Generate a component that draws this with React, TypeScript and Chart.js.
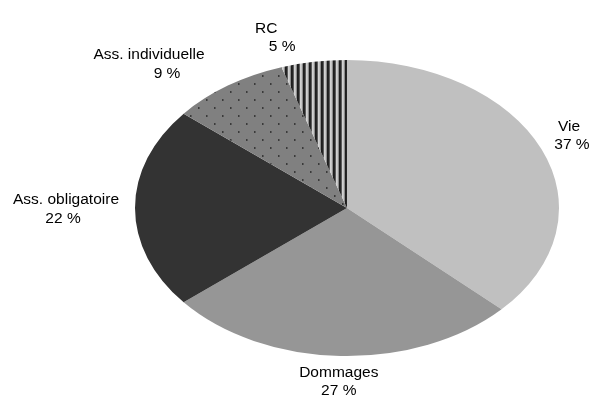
import { useEffect, useRef } from "react";
import { Chart, registerables } from "chart.js";

Chart.register(...registerables);

// Répartition des primes par branche (en % du total)
const categories = ["Vie", "Dommages", "Ass. obligatoire", "Ass. individuelle", "RC"];
const shares = [37, 27, 22, 9, 5];
const percentLabels = shares.map((v) => `${v} %`);

// Horizontal stretch that turns the round pie into an ellipse
const STRETCH_X = 212 / 148;

function makeDotPattern(): CanvasPattern | string {
  const c = document.createElement("canvas");
  c.width = 16;
  c.height = 16;
  const g = c.getContext("2d");
  if (!g) return "#808080";
  g.fillStyle = "#808080";
  g.fillRect(0, 0, 16, 16);
  g.fillStyle = "#3a3a3a";
  g.fillRect(4, 3, 1, 2);
  g.fillRect(12, 11, 1, 2);
  g.fillStyle = "#5a5a5a";
  g.fillRect(5, 3, 1, 2);
  g.fillRect(13, 11, 1, 2);
  const p = g.createPattern(c, "repeat");
  if (!p) return "#808080";
  p.setTransform(new DOMMatrix([1 / STRETCH_X, 0, 0, 1, 0, 0]));
  return p;
}

function makeStripePattern(): CanvasPattern | string {
  const c = document.createElement("canvas");
  c.width = 6;
  c.height = 8;
  const g = c.getContext("2d");
  if (!g) return "#777777";
  const cols = ["#d2d2d2", "#c4c4c4", "#8c8c8c", "#1e1e1e", "#262626", "#5c5c5c"];
  cols.forEach((col, i) => {
    g.fillStyle = col;
    g.fillRect(i, 0, 1, 8);
  });
  const p = g.createPattern(c, "repeat");
  if (!p) return "#777777";
  p.setTransform(new DOMMatrix([1 / STRETCH_X, 0, 0, 1, 0, 0]));
  return p;
}

// Stretches the dataset drawing around the pie centre
const ellipsePlugin = {
  id: "ellipse",
  beforeDatasetsDraw(chart: any, _args: any, opts: any) {
    const arc: any = chart.getDatasetMeta(0).data[0];
    if (!arc) return;
    const ctx = chart.ctx;
    ctx.save();
    ctx.translate(arc.x, arc.y);
    ctx.scale(opts.sx, opts.sy);
    ctx.translate(-arc.x, -arc.y);
  },
  afterDatasetsDraw(chart: any) {
    chart.ctx.restore();
  },
};

// Two-line labels (name + percentage) outside each slice
const sliceLabelPlugin = {
  id: "sliceLabels",
  afterDraw(chart: any, _args: any, opts: any) {
    const meta = chart.getDatasetMeta(0);
    const ctx = chart.ctx;
    ctx.save();
    ctx.font = opts.font;
    ctx.fillStyle = opts.color;
    ctx.textAlign = "center";
    ctx.textBaseline = "alphabetic";
    const lineGap = opts.lineGap;
    meta.data.forEach((arc: any, i: number) => {
      const a = (arc.startAngle + arc.endAngle) / 2;
      const rx = arc.outerRadius * opts.sx;
      const ry = arc.outerRadius * opts.sy;
      const dx = Math.cos(a);
      const dy = Math.sin(a);
      const ax = arc.x + (rx + opts.gap) * dx;
      const ay = arc.y + (ry + opts.gap) * dy;
      const l1 = chart.data.labels[i];
      const l2 = percentLabels[i];
      const m1 = ctx.measureText(l1);
      const m2 = ctx.measureText(l2);
      const w = Math.max(m1.width, m2.width);
      const capH = m1.actualBoundingBoxAscent;
      const h = capH + lineGap;
      const [s1, s2, sy] = opts.shift[i] || [0, 0, 0];
      const cx = ax + (dx * w) / 2;
      const cy = ay + (dy * h) / 2 + sy;
      const base1 = cy - h / 2 + capH;
      ctx.fillText(l1, cx + s1, base1);
      ctx.fillText(l2, cx + s2, base1 + lineGap);
    });
    ctx.restore();
  },
};

export default function App() {
  const canvasRef = useRef<HTMLCanvasElement | null>(null);

  useEffect(() => {
    document.body.style.margin = "0";
    const canvas = canvasRef.current;
    if (!canvas) return;
    const chart = new Chart(canvas, {
      type: "pie",
      data: {
        labels: categories,
        datasets: [
          {
            data: shares,
            backgroundColor: ["#c0c0c0", "#969696", "#333333", makeDotPattern(), makeStripePattern()],
            borderWidth: 0,
            clip: false,
          } as any,
        ],
      },
      options: {
        responsive: false,
        animation: false,
        events: [],
        layout: { padding: { left: 199, right: 98, top: 60, bottom: 42 } },
        plugins: {
          legend: { display: false },
          tooltip: { enabled: false },
          ellipse: { sx: STRETCH_X, sy: 1 },
          sliceLabels: {
            sx: STRETCH_X,
            sy: 1,
            gap: 10,
            lineGap: 18.5,
            font: "15.5px 'Liberation Sans', Arial, sans-serif",
            color: "#000000",
            shift: [
              [2, 5, -5],
              [0, 0, 1],
              [-6, -9, 0],
              [-42, -24, -2],
              [-44, -28, -1],
            ],
          },
        } as any,
      },
      plugins: [ellipsePlugin, sliceLabelPlugin],
    });
    return () => chart.destroy();
  }, []);

  return (
    <div style={{ position: "absolute", left: 0, top: 0, width: 593, height: 398, background: "#ffffff" }}>
      <canvas ref={canvasRef} width={593} height={398} style={{ display: "block" }} />
    </div>
  );
}
